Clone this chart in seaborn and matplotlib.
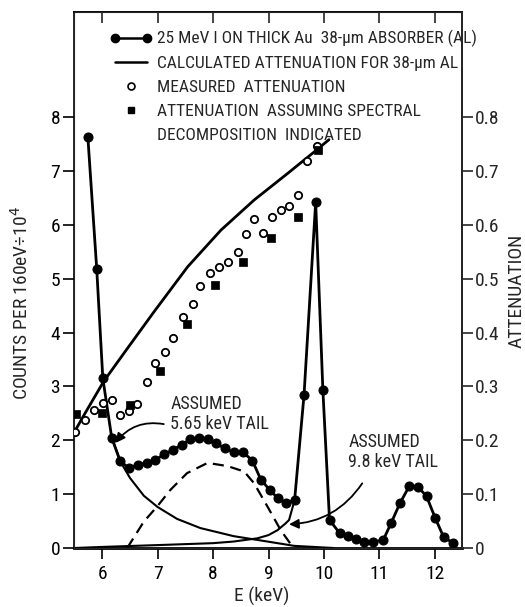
import matplotlib
matplotlib.use("Agg")
import numpy as np
import pandas as pd
import matplotlib.pyplot as plt
import seaborn as sns
from matplotlib import font_manager as fm
from matplotlib.lines import Line2D
from matplotlib.legend_handler import HandlerLine2D

# ---------------- data ----------------
# measured spectrum (counts per 160 eV / 1e4)
spec_e = [5.74, 5.90, 6.01, 6.17, 6.32, 6.48, 6.65, 6.80, 6.95, 7.12, 7.27, 7.43,
          7.59, 7.74, 7.90, 8.05, 8.21, 8.37, 8.54, 8.71, 8.86, 9.02, 9.17, 9.32,
          9.47, 9.64, 9.85, 9.98, 10.10, 10.28, 10.43, 10.57, 10.73, 10.89, 11.07,
          11.21, 11.37, 11.54, 11.70, 11.85, 12.01, 12.16, 12.32]
spec_counts = [7.63, 5.18, 3.15, 2.05, 1.62, 1.48, 1.55, 1.58, 1.63, 1.74, 1.82, 1.91,
               2.02, 2.04, 2.03, 1.94, 1.85, 1.78, 1.78, 1.62, 1.27, 1.08, 0.92, 0.83,
               0.89, 2.84, 6.42, 2.93, 0.52, 0.28, 0.22, 0.16, 0.11, 0.11, 0.15,
               0.46, 0.83, 1.15, 1.13, 0.96, 0.55, 0.20, 0.10]

# assumed 5.65 keV tail
tail565_e = [6.17, 6.33, 6.50, 6.75, 7.00, 7.35, 7.77, 8.37, 8.98, 9.46, 10.17]
tail565_c = [2.05, 1.60, 1.30, 0.97, 0.76, 0.54, 0.37, 0.22, 0.12, 0.04, 0.00]

# assumed 9.8 keV tail
tail98_e = [5.50, 6.00, 7.17, 8.00, 8.37, 8.80, 9.00, 9.16, 9.30, 9.37, 9.47]
tail98_c = [0.00, 0.02, 0.06, 0.09, 0.12, 0.18, 0.24, 0.33, 0.45, 0.52, 0.89]

# dashed decomposed component
dash_e = [6.45, 6.75, 6.99, 7.23, 7.53, 7.90, 8.26, 8.56, 8.74, 8.98, 9.22, 9.45]
dash_c = [0.00, 0.49, 0.77, 1.08, 1.39, 1.58, 1.52, 1.42, 1.20, 0.77, 0.33, 0.00]

# calculated attenuation for 38-um Al (right axis)
calc_e = [5.50, 5.70, 6.03, 6.45, 6.93, 7.54, 8.14, 8.74, 9.34, 9.82, 10.09]
calc_att = [0.216, 0.252, 0.310, 0.370, 0.438, 0.522, 0.590, 0.646, 0.695, 0.735, 0.758]

# measured attenuation (open circles)
meas_e = [5.50, 5.68, 5.85, 6.01, 6.17, 6.32, 6.48, 6.63, 6.81, 6.96, 7.13, 7.28,
          7.46, 7.63, 7.77, 7.94, 8.10, 8.27, 8.44, 8.59, 8.74, 8.90, 9.07, 9.22,
          9.37, 9.53, 9.70, 9.88]
meas_att = [0.215, 0.237, 0.256, 0.270, 0.275, 0.247, 0.254, 0.268, 0.309, 0.344,
            0.364, 0.390, 0.429, 0.453, 0.486, 0.510, 0.522, 0.531, 0.550, 0.583,
            0.610, 0.584, 0.615, 0.627, 0.635, 0.656, 0.718, 0.746]

# attenuation assuming spectral decomposition (filled squares)
dec_e = [5.52, 5.99, 6.50, 7.04, 7.52, 8.03, 8.54, 9.04, 9.53, 9.89]
dec_att = [0.248, 0.251, 0.265, 0.329, 0.415, 0.489, 0.531, 0.576, 0.615, 0.738]

x_ticks = [6, 7, 8, 9, 10, 11, 12]
y_ticks = [0, 1, 2, 3, 4, 5, 6, 7, 8]
att_ticks = [0, 0.1, 0.2, 0.3, 0.4, 0.5, 0.6, 0.7, 0.8]
att_tick_labels = ["0", "0.1", "0.2", "0.3", "0.4", "0.5", "0.6", "0.7", "0.8"]

legend_labels = ["25 MeV I ON THICK Au  38-\u03bcm ABSORBER (AL)",
                 "CALCULATED ATTENUATION FOR 38-\u03bcm AL",
                 "MEASURED  ATTENUATION",
                 "ATTENUATION  ASSUMING SPECTRAL",
                 "DECOMPOSITION  INDICATED"]

# ---------------- style ----------------
sns.set_style("ticks")
names = {f.name for f in fm.fontManager.ttflist}
FONT, STRETCH = "DejaVu Sans", "normal"
for cand in ["Liberation Sans Narrow", "DejaVu Sans Condensed", "Roboto Condensed",
             "Open Sans Condensed"]:
    if cand in names:
        FONT = cand
        break
else:
    cond = [f for f in fm.fontManager.ttflist
            if f.stretch in ("condensed", "semi-condensed") and f.style == "normal"]
    if cond:
        FONT, STRETCH = cond[0].name, cond[0].stretch
plt.rcParams["font.family"] = [FONT, "DejaVu Sans"]
plt.rcParams["font.stretch"] = STRETCH
plt.rcParams["mathtext.fontset"] = "dejavusans"

XLIM = (5.49, 12.49)
YLIM = (0, 9.95)

fig = plt.figure(figsize=(5.25, 6.07), dpi=100)
ax = fig.add_axes([74 / 525, 1 - 548 / 607, (462 - 74) / 525, (548 - 12) / 607])

sns.lineplot(x=spec_e, y=spec_counts, ax=ax, color="black", lw=2.0, marker="o",
             markersize=6.5, markeredgecolor="black", markerfacecolor="black",
             sort=False, estimator=None)
sns.lineplot(x=tail565_e, y=tail565_c, ax=ax, color="black", lw=1.5,
             sort=False, estimator=None)
sns.lineplot(x=tail98_e, y=tail98_c, ax=ax, color="black", lw=1.5,
             sort=False, estimator=None)
sns.lineplot(x=dash_e, y=dash_c, ax=ax, color="black", lw=1.6,
             linestyle=(0, (5, 3)), sort=False, estimator=None)

ax.set_xlim(*XLIM)
ax.set_ylim(*YLIM)
ax.set_xticks(x_ticks)
ax.set_xticklabels([str(t) for t in x_ticks])
ax.set_yticks(y_ticks)
ax.set_yticklabels([str(t) for t in y_ticks])
ax.tick_params(axis="both", direction="out", length=8, width=1.2, labelsize=14,
               colors="black")
ax.tick_params(axis="y", pad=2)
ax.tick_params(axis="x", pad=4)
for s in ["left", "top", "right"]:
    ax.spines[s].set_linewidth(1.2)
    ax.spines[s].set_color("black")
ax.spines["bottom"].set_linewidth(2.0)
ax.spines["bottom"].set_color("black")

top = ax.secondary_xaxis("top")
top.set_xticks(x_ticks)
top.tick_params(direction="in", length=8, width=1.2, labeltop=False)
top.spines["top"].set_linewidth(1.2)

ax.set_xlabel("E (keV)", fontsize=14)
ax.xaxis.set_label_coords(0.483, -0.073)
ax.set_ylabel("COUNTS PER 160eV\u00f710$^{4}$", fontsize=14)
ax.yaxis.set_label_coords(-0.108, 0.457)

ax2 = ax.twinx()
sns.lineplot(x=calc_e, y=calc_att, ax=ax2, color="black", lw=2.0,
             sort=False, estimator=None)
sns.scatterplot(x=meas_e, y=meas_att, ax=ax2, marker="o", s=28, facecolor="white",
                edgecolor="black", linewidth=1.3, zorder=4)
sns.scatterplot(x=dec_e, y=dec_att, ax=ax2, marker="s", s=26, color="black",
                edgecolor="black", linewidth=0.5, zorder=4)
ax2.set_ylim(YLIM[0] / 10, YLIM[1] / 10)
ax2.set_xlim(*XLIM)
ax2.set_yticks(att_ticks)
ax2.set_yticklabels(att_tick_labels)
ax2.tick_params(axis="y", direction="out", length=8, width=1.2, labelsize=14, pad=1)
ax2.spines["right"].set_linewidth(1.2)
ax2.set_ylabel("ATTENUATION", fontsize=14, rotation=90)
ax2.yaxis.set_label_coords(1.118, 0.479)

# annotations
ax.text(7.23, 2.84, "ASSUMED\n5.65 keV TAIL", fontsize=13, ha="left", va="top",
        linespacing=1.15)
ax.annotate("", xy=(6.24, 1.95), xytext=(7.11, 2.30),
            arrowprops=dict(arrowstyle="-|>", color="black", lw=1.3,
                            mutation_scale=14, shrinkA=0, shrinkB=0,
                            connectionstyle="arc3,rad=0.3"))
ax.text(10.44, 2.13, "ASSUMED\n9.8 keV TAIL", fontsize=13, ha="left", va="top",
        linespacing=1.15)
ax.annotate("", xy=(9.37, 0.44), xytext=(10.69, 1.20),
            arrowprops=dict(arrowstyle="-|>", color="black", lw=1.3,
                            mutation_scale=14, shrinkA=0, shrinkB=0,
                            connectionstyle="arc3,rad=-0.25"))

# legend
class RightMarkerHandler(HandlerLine2D):
    def __init__(self):
        super().__init__(numpoints=1)

    def get_xdata(self, legend, xdescent, ydescent, width, height, fontsize):
        xdata = np.array([-xdescent, -xdescent + width])
        xm = np.array([-xdescent + width - 0.1 * width])
        return xdata, xm

h1 = Line2D([], [], color="black", lw=1.8, marker="o", ms=6)
h2 = Line2D([], [], color="black", lw=1.8)
h3 = Line2D([], [], ls="none", marker="o", mfc="white", mec="black", ms=5, mew=1.2)
h4 = Line2D([], [], ls="none", marker="s", color="black", ms=5)
h5 = Line2D([], [], ls="none")
ax2.legend([h1, h2, h3, h4, h5], legend_labels, loc="upper left",
           bbox_to_anchor=(0.093, 0.966), borderaxespad=0, borderpad=0,
           frameon=False, fontsize=12.5, handlelength=2.4, handletextpad=0.3,
           labelspacing=0.5, numpoints=2,
           handler_map={h3: RightMarkerHandler(), h4: RightMarkerHandler()})

fig.savefig("out.png", dpi=100)
